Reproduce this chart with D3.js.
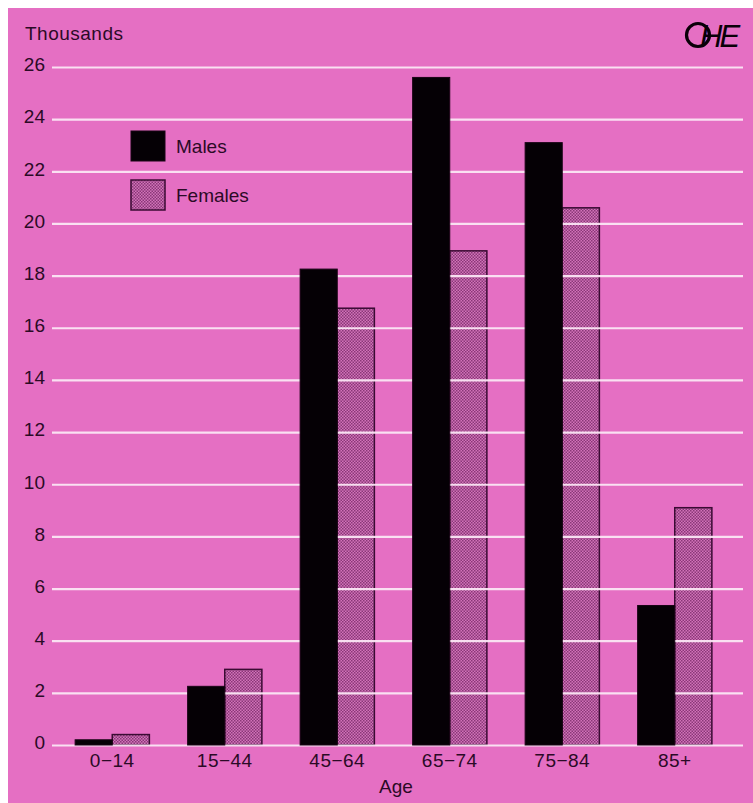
<!DOCTYPE html>
<html>
<head>
<meta charset="utf-8">
<script src="https://cdn.jsdelivr.net/npm/d3@7"></script>
<style>
  html, body { margin: 0; padding: 0; background: #ffffff; }
  svg { display: block; }
  text { font-family: "Liberation Sans", Arial, Helvetica, sans-serif; }
</style>
</head>
<body>
<svg id="chart" width="753" height="803"></svg>
<script>
// Age groups and counts (thousands)
const ageGroups = ["0\u221214", "15\u221244", "45\u221264", "65\u221274", "75\u221284", "85+"];
const males   = [0.2, 2.25, 18.25, 25.6, 23.1, 5.35];
const females = [0.4, 2.9, 16.75, 18.95, 20.6, 9.1];
const yTicks  = [0, 2, 4, 6, 8, 10, 12, 14, 16, 18, 20, 22, 24, 26];
const seriesNames = ["Males", "Females"];

const svg = d3.select("#chart");
const W = 753, H = 803;
const ink = "#2b0a26";
const pink = "#e56fc3";
const fs = 19;

// background panel
svg.append("rect").attr("x", 8).attr("y", 8).attr("width", W - 8).attr("height", H - 8).attr("fill", pink);

// stipple pattern for the female bars
const defs = svg.append("defs");
const pat = defs.append("pattern").attr("id", "stipple")
  .attr("patternUnits", "userSpaceOnUse").attr("width", 3).attr("height", 3);
pat.append("rect").attr("width", 3).attr("height", 3).attr("fill", "#d272b9");
pat.append("rect").attr("x", 0).attr("y", 0).attr("width", 1.5).attr("height", 1.5).attr("fill", "#6a1f5c").attr("opacity", 0.7);
pat.append("rect").attr("x", 1.5).attr("y", 1.5).attr("width", 1.5).attr("height", 1.5).attr("fill", "#6a1f5c").attr("opacity", 0.7);

const x0 = d3.scaleBand().domain(ageGroups).range([56, 731]).paddingInner(0.34).paddingOuter(0.17);
const x1 = d3.scaleBand().domain(seriesNames).range([0, x0.bandwidth()]);
const y = d3.scaleLinear().domain([0, 26]).range([745, 67]);

const rows = ageGroups.map((g, i) => ({ group: g, Males: males[i], Females: females[i] }));

// female bars sit beneath the grid lines
svg.append("g").selectAll("rect").data(rows).join("rect")
  .attr("x", d => x0(d.group) + x1("Females"))
  .attr("y", d => y(d.Females))
  .attr("width", x1.bandwidth())
  .attr("height", d => y(0) - y(d.Females))
  .attr("fill", "url(#stipple)")
  .attr("stroke", "#3a0b33").attr("stroke-width", 1.5);

// grid lines and y tick labels
const yAxis = d3.axisLeft(y).tickValues(yTicks).tickSize(0).tickPadding(0);
const gy = svg.append("g").attr("transform", "translate(52,0)").call(yAxis);
gy.attr("font-family", null).attr("font-size", null);
gy.select(".domain").remove();
gy.selectAll(".tick line").attr("x2", 691).attr("stroke", "#fbe6f4").attr("stroke-width", 2.2).attr("opacity", 0.95);
gy.selectAll(".tick text").attr("x", -7).attr("dy", "0.2em")
  .attr("fill", ink).attr("font-size", fs).attr("text-anchor", "end");

// male bars
svg.append("g").selectAll("rect").data(rows).join("rect")
  .attr("x", d => x0(d.group) + x1("Males"))
  .attr("y", d => y(d.Males))
  .attr("width", x1.bandwidth())
  .attr("height", d => y(0) - y(d.Males))
  .attr("fill", "#050005")
  .attr("stroke", "#1a0416").attr("stroke-width", 1);

// category labels
const xAxis = d3.axisBottom(x0).tickSize(0).tickPadding(0);
const gx = svg.append("g").attr("transform", "translate(0,767)").call(xAxis);
gx.attr("font-family", null).attr("font-size", null);
gx.select(".domain").remove();
gx.selectAll(".tick text").attr("fill", ink).attr("font-size", fs).attr("dy", 0).attr("y", 0).attr("letter-spacing", 0.5);

// axis titles
svg.append("text").attr("x", 25).attr("y", 40).attr("fill", ink).attr("font-size", fs).attr("letter-spacing", 0.5).text("Thousands");
svg.append("text").attr("x", 396).attr("y", 793).attr("fill", ink).attr("font-size", fs).attr("text-anchor", "middle").text("Age");

// legend
const legend = svg.append("g");
legend.append("rect").attr("x", 131).attr("y", 131).attr("width", 34).attr("height", 30)
  .attr("fill", "#050005").attr("stroke", "#1a0416");
legend.append("text").attr("x", 176).attr("y", 153).attr("fill", ink).attr("font-size", fs).text("Males");
legend.append("rect").attr("x", 131).attr("y", 180).attr("width", 34).attr("height", 30)
  .attr("fill", "url(#stipple)").attr("stroke", "#3a0b33").attr("stroke-width", 1.5);
legend.append("text").attr("x", 176).attr("y", 202).attr("fill", ink).attr("font-size", fs).text("Females");

// OHE mark
const logo = svg.append("g");
logo.append("circle").attr("cx", 698).attr("cy", 35).attr("r", 11.5).attr("fill", "none").attr("stroke", "#0a0008").attr("stroke-width", 3.2);
logo.append("text").attr("x", 700).attr("y", 47).attr("fill", "#0a0008").attr("font-size", 31)
  .attr("font-style", "italic").attr("letter-spacing", -3).text("HE");
</script>
</body>
</html>
